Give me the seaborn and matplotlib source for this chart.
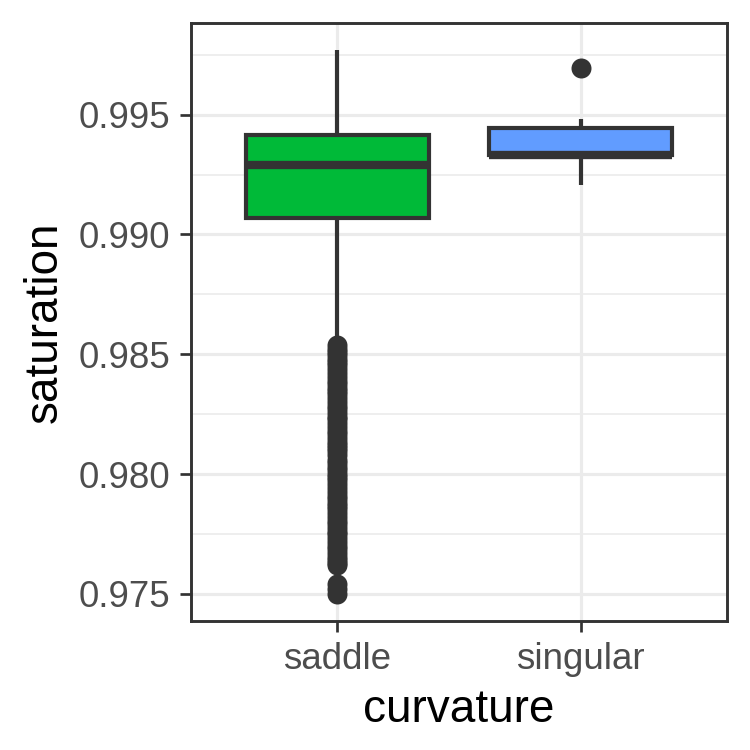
import numpy as np
import pandas as pd
import matplotlib
matplotlib.use("Agg")
import matplotlib.pyplot as plt
import seaborn as sns
from matplotlib.ticker import MultipleLocator

# values: box stats levels with counts, plus outliers
categories = ["saddle", "singular"]
colors = ["#00BA38", "#619CFF"]

saddle_core_values = [0.98550, 0.98800, 0.99067, 0.99288, 0.99416, 0.99600, 0.99769]
saddle_core_counts = [1, 8, 90, 100, 90, 8, 1]
saddle_outliers = [0.98537, 0.98522, 0.98510, 0.98495, 0.98480, 0.98468, 0.98455,
                   0.98438, 0.98420, 0.98405, 0.98390, 0.98375, 0.98360, 0.98348,
                   0.98335, 0.98318, 0.98300, 0.98285, 0.98270, 0.98255, 0.98240,
                   0.98228, 0.98215, 0.98198, 0.98180, 0.98165, 0.98150, 0.98135,
                   0.98120, 0.98108, 0.98095, 0.98078, 0.98060, 0.98045, 0.98030,
                   0.98015, 0.98000, 0.97988, 0.97975, 0.97958, 0.97940, 0.97925,
                   0.97910, 0.97895, 0.97880, 0.97868, 0.97855, 0.97838, 0.97820,
                   0.97805, 0.97790, 0.97775, 0.97760, 0.97748, 0.97735, 0.97718,
                   0.97700, 0.97685, 0.97670, 0.97655, 0.97640, 0.97628, 0.97619,
                   0.97540, 0.97520, 0.97500]

singular_values = [0.99208, 0.99330, 0.99443, 0.99482, 0.99695]
singular_counts = [1, 12, 8, 1, 1]

y_ticks = [0.975, 0.980, 0.985, 0.990, 0.995]

saddle = np.concatenate([np.repeat(saddle_core_values, saddle_core_counts), saddle_outliers])
singular = np.repeat(singular_values, singular_counts)
df = pd.DataFrame({
    "curvature": ["saddle"] * len(saddle) + ["singular"] * len(singular),
    "saturation": np.concatenate([saddle, singular]),
})

sns.set_style("white")
plt.rcParams["font.family"] = ["Liberation Sans", "DejaVu Sans"]

dark = "#333333"
fig = plt.figure(figsize=(2.5, 2.5), dpi=300)
ax = fig.add_axes([0.2547, 0.172, 0.9693 - 0.2547, 0.9693 - 0.172])

sns.boxplot(data=df, x="curvature", y="saturation", hue="curvature",
            order=categories, hue_order=categories, palette=colors,
            saturation=1, width=0.75, linewidth=1.0, linecolor=dark,
            showcaps=False, legend=False, ax=ax,
            medianprops=dict(linewidth=2.0, color=dark),
            whiskerprops=dict(linewidth=1.0, color=dark),
            flierprops=dict(marker="o", markersize=4.8, markerfacecolor=dark,
                            markeredgecolor=dark, markeredgewidth=0))

# ggplot-like 5% expansion
lo, hi = df["saturation"].min(), df["saturation"].max()
pad = (hi - lo) * 0.05
ax.set_ylim(lo - pad, hi + pad)
ax.set_xlim(-0.6, 1.6)

ax.set_yticks(y_ticks)
ax.set_yticklabels([f"{v:.3f}" for v in y_ticks])
ax.yaxis.set_minor_locator(MultipleLocator(0.0025))
ax.set_axisbelow(True)
ax.grid(which="major", color="#EBEBEB", linewidth=0.75)
ax.grid(which="minor", axis="y", color="#EBEBEB", linewidth=0.4)

for s in ax.spines.values():
    s.set_visible(True)
    s.set_color(dark)
    s.set_linewidth(0.7)

ax.tick_params(axis="both", which="major", length=2.75, width=0.65, color=dark,
               labelcolor="#4D4D4D", labelsize=8.8, pad=2.2,
               left=True, bottom=True)
ax.tick_params(axis="y", which="minor", length=0)

ax.set_xlabel("curvature", fontsize=11, color="black", labelpad=2.75)
ax.set_ylabel("saturation", fontsize=11, color="black", labelpad=2.75)

fig.savefig("out.png", dpi=300, facecolor="white")
